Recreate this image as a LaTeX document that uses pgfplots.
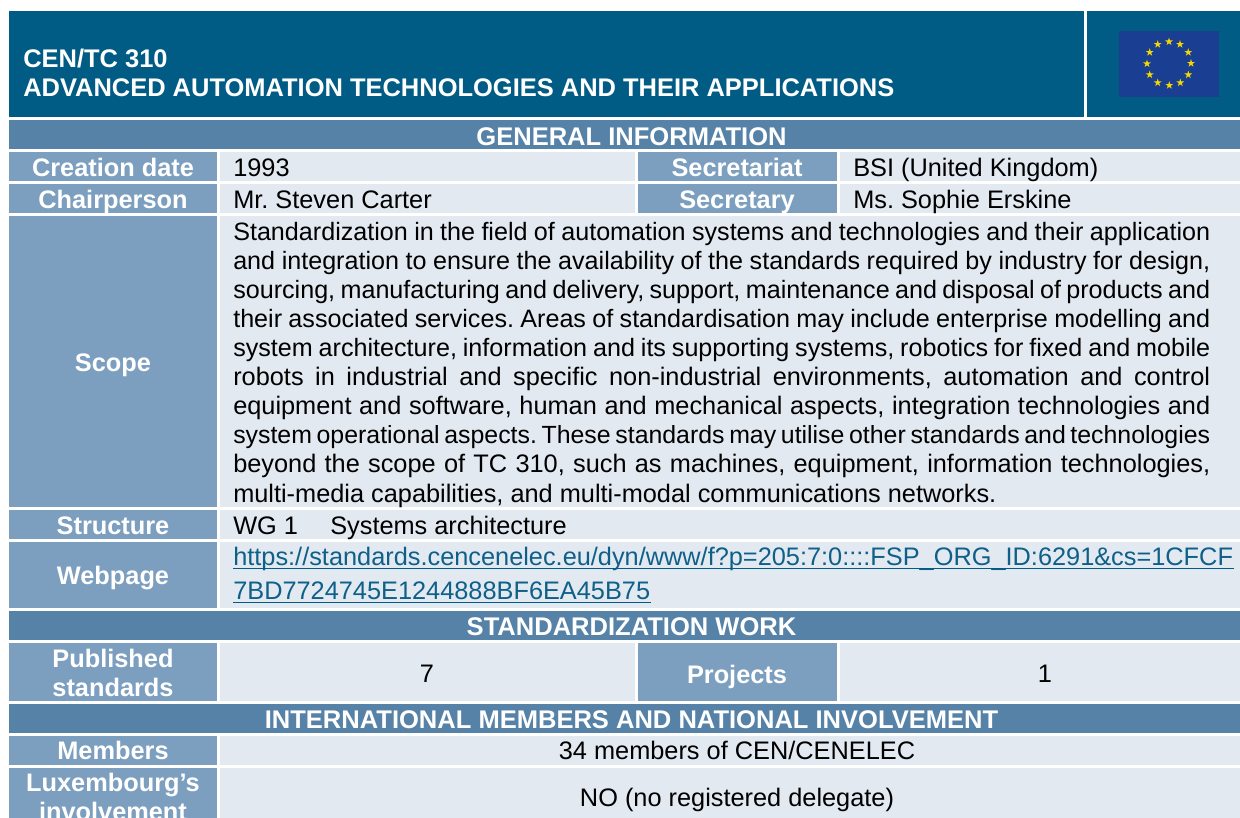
\documentclass[border=0pt]{standalone}
\usepackage{pgfplots}
\pgfplotsset{compat=1.18}
\usepackage{fontspec}
\setmainfont{Liberation Sans}
\frenchspacing
\definecolor{hdr}{HTML}{005C84}
\definecolor{sec}{HTML}{5682A8}
\definecolor{lab}{HTML}{7D9FBF}
\definecolor{val}{HTML}{E2E9F1}
\definecolor{flag}{HTML}{1A3F92}
\definecolor{star}{HTML}{F5D800}
\definecolor{lnk}{HTML}{0F6088}
\newcommand{\fs}{\fontsize{19}{21}\selectfont}
\newcommand{\fb}{\fontsize{19}{21}\selectfont\bfseries}
\newcommand{\cell}[5]{\addplot[fill=#5,draw=none] coordinates {(#1,#2)(#3,#2)(#3,#4)(#1,#4)} -- cycle;}
\newcommand{\wb}[3]{\node[anchor=base,inner sep=0pt,text=white] at (axis cs:#1,#2) {\fb #3};}
\newcommand{\ws}[2]{\node[anchor=base,inner sep=0pt,text=white] at (axis cs:631.5,#1) {\fontsize{19.15}{21}\selectfont\bfseries #2};}
\newcommand{\tl}[3]{\node[anchor=base west,inner sep=0pt,text=black] at (axis cs:#1,#2) {\fs #3};}
\newcommand{\tc}[3]{\node[anchor=base,inner sep=0pt,text=black] at (axis cs:#1,#2) {\fs #3};}
\newcommand{\jl}[3][19]{\node[anchor=base west,inner sep=0pt,text=black] at (axis cs:233,#2) {\fontsize{#1}{21}\selectfont\spaceskip=0.278em plus 1em minus 0.2em\makebox[732.75pt][s]{#3}};}
\pgfdeclareplotmark{fstar}{%
  \pgfpathmoveto{\pgfqpointpolar{90}{\pgfplotmarksize}}%
  \pgfpathlineto{\pgfqpointpolar{234}{\pgfplotmarksize}}%
  \pgfpathlineto{\pgfqpointpolar{18}{\pgfplotmarksize}}%
  \pgfpathlineto{\pgfqpointpolar{162}{\pgfplotmarksize}}%
  \pgfpathlineto{\pgfqpointpolar{306}{\pgfplotmarksize}}%
  \pgfpathclose\pgfusepathqfill}
\begin{document}
\begin{tikzpicture}
\useasboundingbox (0,0) rectangle (930pt,613.5pt);
\begin{axis}[at={(0,0)},anchor=south west,scale only axis,width=930pt,height=613.5pt,
  xmin=0,xmax=1240,ymin=0,ymax=818,y dir=reverse,hide axis,clip=true]
% header
\cell{9}{11}{1084}{117}{hdr}
\cell{1087}{11}{1240}{117}{hdr}
\cell{1119}{31.3}{1219}{97}{flag}
\addplot[only marks,mark=fstar,mark size=3.1pt,color=star] coordinates {
 (1169,41.7)(1180,44.3)(1188.3,52.3)(1191,63.3)(1188.3,74.7)(1180.3,82.7)
 (1169.3,85.3)(1157.7,82.7)(1149.7,74.7)(1147,63.7)(1149.7,52.3)(1157.7,44.3)};
% sections
\cell{9}{120}{1240}{149}{sec}
\cell{9}{611}{1240}{640}{sec}
\cell{9}{704}{1240}{733}{sec}
% labels
\cell{9}{152}{217}{181}{lab}
\cell{9}{184}{217}{213}{lab}
\cell{9}{216}{217}{507}{lab}
\cell{9}{510}{217}{539}{lab}
\cell{9}{542}{217}{608}{lab}
\cell{9}{643}{217}{701}{lab}
\cell{9}{736}{217}{765}{lab}
\cell{9}{768}{217}{818}{lab}
\cell{638}{152}{837}{181}{lab}
\cell{638}{184}{837}{213}{lab}
\cell{638}{643}{837}{701}{lab}
% values
\cell{220}{152}{635}{181}{val}
\cell{220}{184}{635}{213}{val}
\cell{840}{152}{1240}{181}{val}
\cell{840}{184}{1240}{213}{val}
\cell{220}{216}{1240}{507}{val}
\cell{220}{510}{1240}{539}{val}
\cell{220}{542}{1240}{608}{val}
\cell{220}{643}{635}{701}{val}
\cell{840}{643}{1240}{701}{val}
\cell{220}{736}{1240}{765}{val}
\cell{220}{768}{1240}{818}{val}
% header text
\node[anchor=base west,inner sep=0pt,text=white] at (axis cs:23,67) {\fontsize{19.1}{21}\selectfont\bfseries CEN/TC 310};
\node[anchor=base west,inner sep=0pt,text=white] at (axis cs:23,96) {\fontsize{19.1}{21}\selectfont\bfseries ADVANCED AUTOMATION TECHNOLOGIES AND THEIR APPLICATIONS};
% section text
\ws{145}{GENERAL INFORMATION}
\ws{635}{STANDARDIZATION WORK}
\ws{728}{INTERNATIONAL MEMBERS AND NATIONAL INVOLVEMENT}
% label text
\wb{113}{176}{Creation date}
\wb{113}{208}{Chairperson}
\wb{113}{371}{Scope}
\wb{113}{534}{Structure}
\wb{113}{584}{Webpage}
\wb{113}{667}{Published}
\wb{113}{696}{standards}
\wb{113}{759}{Members}
\wb{113}{791}{Luxembourg’s}
\wb{113}{820}{involvement}
\wb{737}{176}{Secretariat}
\wb{737}{208}{Secretary}
\wb{737}{683}{Projects}
% value text
\tl{233}{176}{1993}
\tl{233}{208}{Mr. Steven Carter}
\tl{853}{176}{BSI (United Kingdom)}
\tl{853}{208}{Ms. Sophie Erskine}
\jl[18.85]{240}{Standardization in the field of automation systems and technologies and their application}
\jl[18.85]{269}{and integration to ensure the availability of the standards required by industry for design,}
\jl[18.85]{298.2}{sourcing, manufacturing and delivery, support, maintenance and disposal of products and}
\jl[18.85]{327.3}{their associated services. Areas of standardisation may include enterprise modelling and}
\jl[18.85]{356.4}{system architecture, information and its supporting systems, robotics for fixed and mobile}
\jl{385.5}{robots in industrial and specific non-industrial environments, automation and control}
\jl{414.6}{equipment and software, human and mechanical aspects, integration technologies and}
\jl[18.65]{443.7}{system operational aspects. These standards may utilise other standards and technologies}
\jl{472.8}{beyond the scope of TC 310, such as machines, equipment, information technologies,}
\tl{233}{502}{multi-media capabilities, and multi-modal communications networks.}
\tl{233}{534}{WG 1}
\tl{330}{534}{Systems architecture}
\node[anchor=base west,inner sep=0pt,text=lnk] at (axis cs:233,565.6) {\fs https://standards.cencenelec.eu/dyn/www/f?p=205:7:0::::FSP\_ORG\_ID:6291\&cs=1CFCF};
\node[anchor=base west,inner sep=0pt,text=lnk] at (axis cs:233,599) {\fs 7BD7724745E1244888BF6EA45B75};
\addplot[color=hdr,line width=1pt] coordinates {(233,568.7)(1234,568.7)};
\addplot[color=hdr,line width=1pt] coordinates {(233,602.7)(651,602.7)};
\tc{427}{682}{7}
\tc{1045}{682}{1}
\tc{737}{759}{34 members of CEN/CENELEC}
\tc{737}{806}{NO (no registered delegate)}
\end{axis}
\end{tikzpicture}
\end{document}
